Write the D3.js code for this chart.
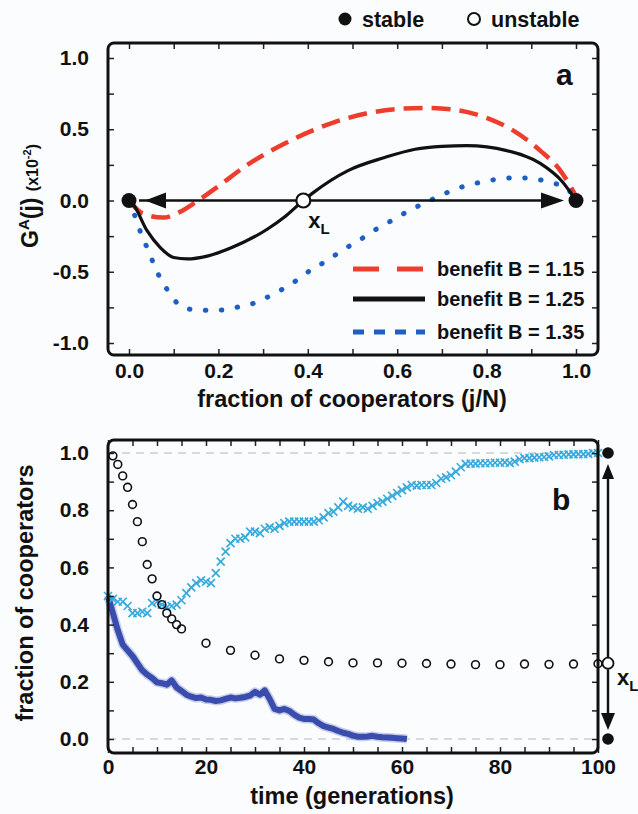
<!DOCTYPE html>
<html>
<head>
<meta charset="utf-8">
<script src="https://cdn.jsdelivr.net/npm/d3@7"></script>
<style>
  body { margin: 0; background: #fbfcfe; }
  text { font-family: "Liberation Sans", Arial, sans-serif; font-weight: bold; fill: #111; }
</style>
</head>
<body>
<script>
const W = 638, H = 814;

// ---- panel a data : G^A(j) for three benefit values ----
const redX = [0, 0.03, 0.076, 0.114, 0.15, 0.2, 0.26, 0.33, 0.41, 0.46, 0.53, 0.61, 0.66, 0.72, 0.8, 0.86, 0.92, 0.965, 1.0];
const redY = [0, -0.09, -0.12, -0.08, -0.01, 0.10, 0.24, 0.37, 0.49, 0.55, 0.61, 0.645, 0.65, 0.64, 0.58, 0.49, 0.35, 0.21, 0.03];

const blackX = [0, 0.01, 0.04, 0.07, 0.1, 0.13, 0.175, 0.23, 0.31, 0.35, 0.39, 0.41, 0.49, 0.57, 0.64, 0.70, 0.756, 0.845, 0.92, 0.97, 1.0];
const blackY = [0, -0.03, -0.21, -0.33, -0.40, -0.41, -0.39, -0.33, -0.20, -0.11, 0.0, 0.05, 0.21, 0.30, 0.36, 0.38, 0.385, 0.35, 0.26, 0.13, 0.0];

const blueX = [0, 0.018, 0.03, 0.045, 0.058, 0.075, 0.095, 0.12, 0.16, 0.2, 0.24, 0.28, 0.315, 0.35, 0.38, 0.41, 0.445, 0.476, 0.51, 0.543, 0.577, 0.61, 0.64, 0.68, 0.715, 0.75, 0.79, 0.826, 0.868, 0.91, 0.94, 0.98, 1.0];
const blueY = [0, -0.15, -0.26, -0.36, -0.47, -0.57, -0.67, -0.75, -0.77, -0.77, -0.75, -0.72, -0.67, -0.61, -0.55, -0.48, -0.42, -0.35, -0.29, -0.22, -0.16, -0.10, -0.05, 0.01, 0.06, 0.10, 0.13, 0.15, 0.16, 0.15, 0.13, 0.08, 0.02];

const benefits = ["benefit B = 1.15", "benefit B = 1.25", "benefit B = 1.35"];
const xL = 0.39;

const aTickX = [0, 0.1, 0.2, 0.3, 0.4, 0.5, 0.6, 0.7, 0.8, 0.9, 1.0];
const aTickY = [-1, -0.75, -0.5, -0.25, 0, 0.25, 0.5, 0.75, 1];
const aLabX = [0, 0.2, 0.4, 0.6, 0.8, 1.0];
const aLabXText = ["0.0", "0.2", "0.4", "0.6", "0.8", "1.0"];
const aLabY = [-1, -0.5, 0, 0.5, 1];
const aLabYText = ["-1.0", "-0.5", "0.0", "0.5", "1.0"];

// ---- panel b data : fraction of cooperators over time ----
const circT = [1, 2, 3, 4, 5, 6, 7, 8, 9, 10, 11, 12, 13, 14, 15, 20, 25, 30, 35, 40, 45, 50, 55, 60, 65, 70, 75, 80, 85, 90, 95, 100];
const circY = [0.99, 0.96, 0.92, 0.88, 0.82, 0.76, 0.69, 0.61, 0.56, 0.50, 0.47, 0.44, 0.42, 0.40, 0.385,
  0.335, 0.31, 0.293, 0.28, 0.275, 0.27, 0.266, 0.266, 0.265, 0.264, 0.262, 0.26, 0.26, 0.262, 0.261, 0.262, 0.263];

const crossY = [0.50, 0.49, 0.48, 0.48, 0.465, 0.44, 0.44, 0.445, 0.44, 0.475,
  0.48, 0.47, 0.46, 0.465, 0.47, 0.485, 0.51, 0.53, 0.545, 0.555,
  0.55, 0.545, 0.58, 0.62, 0.655, 0.685, 0.70, 0.70, 0.705, 0.725,
  0.725, 0.72, 0.735, 0.74, 0.735, 0.745, 0.755, 0.76, 0.76, 0.76,
  0.76, 0.76, 0.76, 0.765, 0.775, 0.79, 0.795, 0.81, 0.83, 0.815,
  0.81, 0.805, 0.81, 0.805, 0.815, 0.825, 0.83, 0.84, 0.85, 0.86,
  0.87, 0.88, 0.888, 0.886, 0.888, 0.888, 0.888, 0.895, 0.91, 0.915,
  0.922, 0.935, 0.95, 0.962, 0.963, 0.963, 0.964, 0.964, 0.965, 0.966,
  0.966, 0.967, 0.965, 0.97, 0.978, 0.982, 0.982, 0.984, 0.985, 0.986,
  0.988, 0.993, 0.993, 0.994, 0.995, 0.995, 0.996, 0.996, 0.997, 1.0, 1.0];

const runY = [0.50, 0.44, 0.38, 0.33, 0.31, 0.29, 0.265, 0.24, 0.225, 0.213,
  0.198, 0.195, 0.19, 0.205, 0.18, 0.168, 0.155, 0.148, 0.143, 0.145,
  0.138, 0.137, 0.133, 0.135, 0.14, 0.145, 0.142, 0.144, 0.147, 0.152,
  0.165, 0.155, 0.17, 0.14, 0.105, 0.1, 0.105, 0.098, 0.085, 0.075,
  0.07, 0.07, 0.068, 0.055, 0.045, 0.04, 0.035, 0.028, 0.022, 0.018,
  0.012, 0.008, 0.008, 0.009, 0.011, 0.008, 0.006, 0.005, 0.004, 0.003, 0.002, 0.0];
const xLb = 0.265;

const bTickX = [0, 5, 10, 15, 20, 25, 30, 35, 40, 45, 50, 55, 60, 65, 70, 75, 80, 85, 90, 95, 100];
const bTickY = [0, 0.1, 0.2, 0.3, 0.4, 0.5, 0.6, 0.7, 0.8, 0.9, 1.0];
const bLabX = [0, 20, 40, 60, 80, 100];
const bLabY = [0, 0.2, 0.4, 0.6, 0.8, 1.0];
const bLabYText = ["0.0", "0.2", "0.4", "0.6", "0.8", "1.0"];

const RED = "#ee3d2d", BLUE = "#1f5ec2", CROSS = "#35a9dc", RUN = "#3a4dac";

const svg = d3.select("body").append("svg")
  .attr("width", W).attr("height", H);

svg.append("rect").attr("width", W).attr("height", H).attr("fill", "#fbfcfe");

// frames
const fa = { l: 108, r: 598, t: 43, b: 355 };
const fb = { l: 108, r: 598, t: 440, b: 753 };

const xa = d3.scaleLinear().domain([0, 1]).range([129, 576]);
const ya = d3.scaleLinear().domain([-1, 1]).range([343, 58]);
const xb = d3.scaleLinear().domain([0, 100]).range([fb.l, fb.r]);
const yb = d3.scaleLinear().domain([0, 1]).range([739, 453]);

function ticks(f, x, y, tx, ty) {
  const sets = [
    [d3.axisBottom(x), `translate(0,${f.b})`, tx],
    [d3.axisTop(x), `translate(0,${f.t})`, tx],
    [d3.axisLeft(y), `translate(${f.l},0)`, ty],
    [d3.axisRight(y), `translate(${f.r},0)`, ty]
  ];
  sets.forEach(([ax, tr, vals]) => {
    const g = svg.append("g").attr("transform", tr)
      .call(ax.tickValues(vals).tickSize(-6).tickFormat(""));
    g.select(".domain").remove();
    g.selectAll("line").attr("stroke", "#222").attr("stroke-width", 1.5);
  });
}

function labels(axis, tr, pad) {
  const g = svg.append("g").attr("transform", tr)
    .call(axis.tickSize(0).tickPadding(pad));
  g.select(".domain").remove();
  g.attr("font-family", null).attr("font-size", null);
  g.selectAll("text").style("font-size", "21px").style("fill", "#111");
}

// ================= panel a =================
const lineA = d3.line().x(d => xa(d[0])).y(d => ya(d[1])).curve(d3.curveMonotoneX);

svg.append("path").attr("d", lineA(d3.zip(redX, redY)))
  .attr("fill", "none").attr("stroke", RED).attr("stroke-width", 4.5)
  .attr("stroke-dasharray", "19,9");
svg.append("path").attr("d", lineA(d3.zip(blueX, blueY)))
  .attr("fill", "none").attr("stroke", BLUE).attr("stroke-width", 5)
  .attr("stroke-linecap", "round").attr("stroke-dasharray", "0.5,15.5");
svg.append("path").attr("d", lineA(d3.zip(blackX, blackY)))
  .attr("fill", "none").attr("stroke", "#111").attr("stroke-width", 3.2);

// arrows on the j axis
const y0 = ya(0);
svg.append("line").attr("x1", xa(0) + 10).attr("x2", xa(xL) - 7).attr("y1", y0).attr("y2", y0)
  .attr("stroke", "#111").attr("stroke-width", 2.6);
svg.append("line").attr("x1", xa(xL) + 7).attr("x2", xa(1) - 18).attr("y1", y0).attr("y2", y0)
  .attr("stroke", "#111").attr("stroke-width", 2.6);
svg.append("path")
  .attr("d", `M${xa(0) + 16},${y0}L${xa(0) + 37},${y0 - 8}L${xa(0) + 37},${y0 + 8}Z`)
  .attr("fill", "#111");
svg.append("path")
  .attr("d", `M${xa(1) - 12},${y0}L${xa(1) - 35},${y0 - 8}L${xa(1) - 35},${y0 + 8}Z`)
  .attr("fill", "#111");
svg.selectAll(".stab").data([0, 1]).enter().append("circle")
  .attr("cx", d => xa(d)).attr("cy", y0).attr("r", 7.5).attr("fill", "#111");
svg.append("circle").attr("cx", xa(xL)).attr("cy", y0).attr("r", 7)
  .attr("fill", "#fff").attr("stroke", "#111").attr("stroke-width", 2.2);
const xlA = svg.append("text").attr("x", xa(xL) + 5).attr("y", y0 + 27).style("font-size", "22px");
xlA.append("tspan").text("x");
xlA.append("tspan").attr("dy", 6).style("font-size", "15px").text("L");

// legend a
const legStyles = [
  { c: RED, w: 5, dash: "26,18" },
  { c: "#111", w: 5, dash: null },
  { c: BLUE, w: 5, dash: "11,10" }
];
const legY = [269, 299, 332];
benefits.forEach((b, i) => {
  const s = legStyles[i];
  svg.append("line").attr("x1", 353).attr("x2", 425).attr("y1", legY[i]).attr("y2", legY[i])
    .attr("stroke", s.c).attr("stroke-width", s.w).attr("stroke-dasharray", s.dash);
  svg.append("text").attr("x", 437).attr("y", legY[i] + 7).style("font-size", "20px").text(b);
});

svg.append("text").attr("x", 556).attr("y", 85).style("font-size", "30px").text("a");

ticks(fa, xa, ya, aTickX, aTickY);
labels(d3.axisBottom(xa).tickValues(aLabX).tickFormat((d, i) => aLabXText[i]), `translate(0,${fa.b})`, 8);
labels(d3.axisLeft(ya).tickValues(aLabY).tickFormat((d, i) => aLabYText[i]), `translate(${fa.l},0)`, 19);

svg.append("rect").attr("x", fa.l).attr("y", fa.t).attr("width", fa.r - fa.l).attr("height", fa.b - fa.t)
  .attr("rx", 6).attr("fill", "none").attr("stroke", "#111").attr("stroke-width", 3);

svg.append("text").attr("x", 352).attr("y", 407).attr("text-anchor", "middle")
  .style("font-size", "23.5px").text("fraction of cooperators (j/N)");

const yta = svg.append("text").attr("transform", "translate(38,196) rotate(-90)")
  .attr("text-anchor", "middle").style("font-size", "23px");
yta.append("tspan").text("G");
yta.append("tspan").attr("dy", -9).style("font-size", "15px").text("A");
yta.append("tspan").attr("dy", 9).text("(j) ");
yta.append("tspan").style("font-size", "16px").text("(x10");
yta.append("tspan").attr("dy", -7).style("font-size", "11px").text("-2");
yta.append("tspan").attr("dy", 7).style("font-size", "16px").text(")");

// top legend
svg.append("circle").attr("cx", 345).attr("cy", 19).attr("r", 6.5).attr("fill", "#111");
svg.append("text").attr("x", 362).attr("y", 26.5).style("font-size", "21.5px").text("stable");
svg.append("circle").attr("cx", 474).attr("cy", 19).attr("r", 6)
  .attr("fill", "#fff").attr("stroke", "#111").attr("stroke-width", 2);
svg.append("text").attr("x", 491).attr("y", 26.5).style("font-size", "21.5px").text("unstable");

// ================= panel b =================
[0, 1].forEach(v => {
  svg.append("line").attr("x1", fb.l).attr("x2", fb.r).attr("y1", yb(v)).attr("y2", yb(v))
    .attr("stroke", "#c9ced6").attr("stroke-width", 1.3).attr("stroke-dasharray", "8,6");
});

const lineB = d3.line().x((d, i) => xb(i)).y(d => yb(d));
svg.append("path").attr("d", lineB(runY)).attr("fill", "none")
  .attr("stroke", "#9da8dc").attr("stroke-width", 9).attr("stroke-opacity", 0.55)
  .attr("stroke-linejoin", "round");
svg.append("path").attr("d", lineB(runY)).attr("fill", "none")
  .attr("stroke", RUN).attr("stroke-width", 6).attr("stroke-linejoin", "round");

svg.selectAll(".cross").data(crossY).enter().append("path")
  .attr("transform", (d, i) => `translate(${xb(i)},${yb(d)})`)
  .attr("d", "M-4,-4L4,4M-4,4L4,-4")
  .attr("stroke", CROSS).attr("stroke-width", 1.6).attr("fill", "none");

svg.selectAll(".circ").data(circY).enter().append("circle")
  .attr("cx", (d, i) => xb(circT[i])).attr("cy", d => yb(d)).attr("r", 3.9)
  .attr("fill", "none").attr("stroke", "#111").attr("stroke-width", 1.6);

svg.append("text").attr("x", 552).attr("y", 510).style("font-size", "30px").text("b");

ticks(fb, xb, yb, bTickX, bTickY);
labels(d3.axisBottom(xb).tickValues(bLabX), `translate(0,${fb.b})`, 6);
labels(d3.axisLeft(yb).tickValues(bLabY).tickFormat((d, i) => bLabYText[i]), `translate(${fb.l},0)`, 19);

svg.append("rect").attr("x", fb.l).attr("y", fb.t).attr("width", fb.r - fb.l).attr("height", fb.b - fb.t)
  .attr("rx", 6).attr("fill", "none").attr("stroke", "#111").attr("stroke-width", 3);

// side arrow showing the two stable states and x_L
const ax = xb(100) + 10;
svg.append("line").attr("x1", ax).attr("x2", ax).attr("y1", yb(1) + 20).attr("y2", yb(xLb) - 6)
  .attr("stroke", "#111").attr("stroke-width", 2.4);
svg.append("line").attr("x1", ax).attr("x2", ax).attr("y1", yb(xLb) + 6).attr("y2", yb(0) - 20)
  .attr("stroke", "#111").attr("stroke-width", 2.4);
svg.append("path")
  .attr("d", `M${ax},${yb(1) + 11}L${ax - 6},${yb(1) + 26}L${ax + 6},${yb(1) + 26}Z`).attr("fill", "#111");
svg.append("path")
  .attr("d", `M${ax},${yb(0) - 9}L${ax - 7},${yb(0) - 26}L${ax + 7},${yb(0) - 26}Z`).attr("fill", "#111");
svg.selectAll(".stabb").data([0, 1]).enter().append("circle")
  .attr("cx", ax).attr("cy", d => yb(d)).attr("r", 5.8).attr("fill", "#111");
svg.append("circle").attr("cx", ax).attr("cy", yb(xLb)).attr("r", 5.5)
  .attr("fill", "#fff").attr("stroke", "#111").attr("stroke-width", 1.8);
const xlB = svg.append("text").attr("x", ax + 9).attr("y", yb(xLb) + 22).style("font-size", "22px");
xlB.append("tspan").text("x");
xlB.append("tspan").attr("dy", 6).style("font-size", "15px").text("L");

svg.append("text").attr("x", 352).attr("y", 804).attr("text-anchor", "middle")
  .style("font-size", "23.5px").text("time (generations)");
svg.append("text").attr("transform", "translate(33,593) rotate(-90)")
  .attr("text-anchor", "middle").style("font-size", "23.5px").text("fraction of cooperators");
</script>
</body>
</html>
